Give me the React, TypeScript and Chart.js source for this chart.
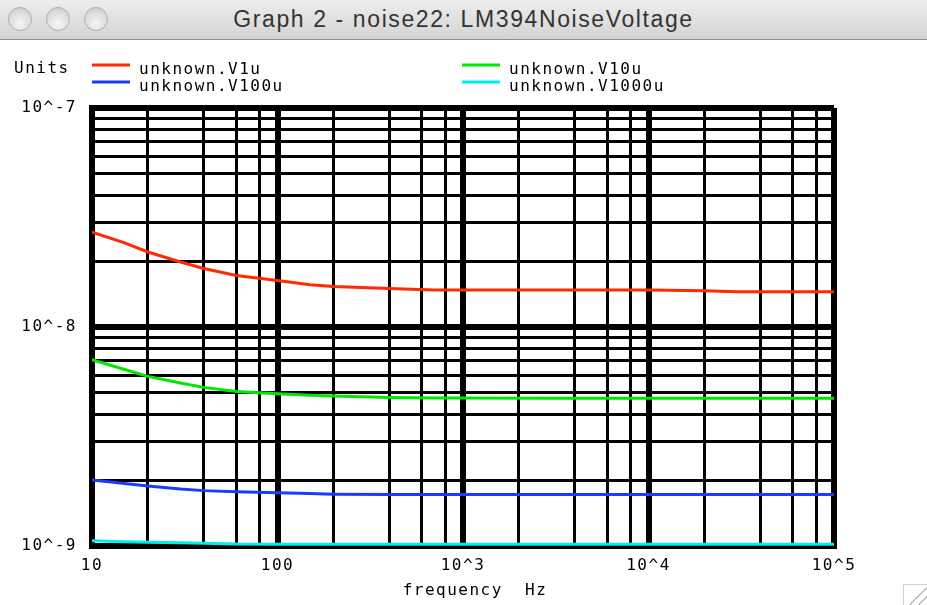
import React, { useEffect, useRef } from "react";
import { Chart, registerables } from "chart.js";

Chart.register(...registerables);

// ---- data ----
const frequencies = [10, 15, 20, 30, 40, 60, 100, 150, 200, 400, 700, 1000, 3000, 10000, 20000, 30000, 100000];
const v1u = [2.71e-8, 2.42e-8, 2.2e-8, 1.98e-8, 1.85e-8, 1.72e-8, 1.63e-8, 1.56e-8, 1.53e-8, 1.5e-8, 1.475e-8, 1.475e-8, 1.475e-8, 1.475e-8, 1.465e-8, 1.45e-8, 1.45e-8];
const v10u = [7.1e-9, 6.4e-9, 5.95e-9, 5.55e-9, 5.3e-9, 5.07e-9, 4.96e-9, 4.88e-9, 4.84e-9, 4.77e-9, 4.74e-9, 4.74e-9, 4.73e-9, 4.73e-9, 4.73e-9, 4.73e-9, 4.73e-9];
const v100u = [2.0e-9, 1.93e-9, 1.88e-9, 1.82e-9, 1.79e-9, 1.77e-9, 1.75e-9, 1.735e-9, 1.725e-9, 1.72e-9, 1.72e-9, 1.72e-9, 1.72e-9, 1.72e-9, 1.72e-9, 1.72e-9, 1.72e-9];
const v1000u = [1.057e-9, 1.045e-9, 1.039e-9, 1.035e-9, 1.03e-9, 1.02e-9, 1.018e-9, 1.018e-9, 1.018e-9, 1.018e-9, 1.018e-9, 1.018e-9, 1.018e-9, 1.018e-9, 1.018e-9, 1.018e-9, 1.018e-9];
const seriesValues = [v1u, v10u, v100u, v1000u];
const seriesLabels = ["unknown.V1u", "unknown.V10u", "unknown.V100u", "unknown.V1000u"];
const seriesColors = ["#ff2a00", "#00e800", "#1a3cff", "#00eeee"];

const xMajorTicks = [10, 100, 1000, 10000, 100000];
const xMajorLabels = ["10", "100", "10^3", "10^4", "10^5"];
const xMinorMultipliers = [2, 4, 6, 8];
const yMajorTicks = [1e-9, 1e-8, 1e-7];
const yMajorLabels = ["10^-9", "10^-8", "10^-7"];
const yMinorMultipliers = [2, 3, 4, 5, 6, 7, 8, 9];

const windowTitle = "Graph 2 - noise22: LM394NoiseVoltage";
const unitsLabel = "Units";
const xAxisTitle = "frequency  Hz";

// ---- helpers ----
function buildTicks(majors: number[], mults: number[]) {
  const out: number[] = [];
  majors.forEach((m, i) => {
    out.push(m);
    if (i < majors.length - 1) mults.forEach((k) => out.push(m * k));
  });
  return out;
}
const xTicks = buildTicks(xMajorTicks, xMinorMultipliers);
const yTicks = buildTicks(yMajorTicks, yMinorMultipliers);

function majorIndex(majors: number[], v: number) {
  return majors.findIndex((m) => Math.abs(v / m - 1) < 1e-6);
}

const MONO = '"DejaVu Sans Mono", monospace';
const LETTER = "1.5px";

const spacingPlugin = {
  id: "spacing",
  beforeLayout(chart: any) {
    chart.ctx.letterSpacing = LETTER;
  },
  beforeDraw(chart: any) {
    chart.ctx.letterSpacing = LETTER;
  },
  afterDraw(chart: any) {
    const ctx = chart.ctx as CanvasRenderingContext2D;
    ctx.save();
    (ctx as any).letterSpacing = LETTER;
    ctx.font = `16px ${MONO}`;
    ctx.fillStyle = "#000";
    ctx.textBaseline = "middle";
    ctx.textAlign = "left";
    ctx.fillText(unitsLabel, 14, 29);
    const colX = [92, 462];
    const rowY = [25, 42];
    chart.data.datasets.forEach((ds: any, i: number) => {
      const cx = colX[i % 2];
      const cy = rowY[Math.floor(i / 2)];
      ctx.strokeStyle = ds.borderColor;
      ctx.lineWidth = 3;
      ctx.beginPath();
      ctx.moveTo(cx, cy);
      ctx.lineTo(cx + 38, cy);
      ctx.stroke();
      ctx.fillStyle = "#000";
      ctx.fillText(ds.label, cx + 47, cy + 5);
    });
    ctx.textAlign = "center";
    ctx.fillText(xAxisTitle, 475, 551);
    ctx.restore();
  },
};

export default function App() {
  const ref = useRef<HTMLCanvasElement | null>(null);
  useEffect(() => {
    document.body.style.margin = "0";
    if (!ref.current) return;
    const chart = new Chart(ref.current, {
      type: "line",
      data: {
        datasets: seriesValues.map((vals, i) => ({
          label: seriesLabels[i],
          data: frequencies.map((f, j) => ({ x: f, y: vals[j] })),
          borderColor: seriesColors[i],
          backgroundColor: seriesColors[i],
          borderWidth: 3,
          pointRadius: 0,
          tension: 0,
          fill: false,
        })),
      },
      options: {
        responsive: false,
        animation: false,
        layout: { padding: { left: 0, right: 93, top: 68, bottom: 0 } },
        plugins: { legend: { display: false }, tooltip: { enabled: false } },
        scales: {
          x: {
            type: "logarithmic",
            min: 10,
            max: 100000,
            afterBuildTicks: (s: any) => {
              s.ticks = xTicks.map((v) => ({ value: v }));
            },
            afterFit: (s: any) => {
              s.height = 59;
            },
            grid: {
              color: "#000",
              lineWidth: (c: any) => (c.tick && majorIndex(xMajorTicks, c.tick.value) >= 0 ? 6 : 3),
              drawTicks: false,
            },
            border: { display: true, color: "#000", width: 6 },
            ticks: {
              autoSkip: false,
              maxRotation: 0,
              padding: 10,
              color: "#000",
              font: { family: MONO, size: 16 },
              callback: (v: any) => {
                const k = majorIndex(xMajorTicks, Number(v));
                return k >= 0 ? xMajorLabels[k] : "";
              },
            },
          },
          y: {
            type: "logarithmic",
            min: 1e-9,
            max: 1e-7,
            afterBuildTicks: (s: any) => {
              s.ticks = yTicks.map((v) => ({ value: v }));
            },
            afterFit: (s: any) => {
              s.width = 92;
            },
            grid: {
              color: "#000",
              lineWidth: (c: any) => (c.tick && majorIndex(yMajorTicks, c.tick.value) >= 0 ? 6 : 3),
              drawTicks: false,
            },
            border: { display: true, color: "#000", width: 6 },
            ticks: {
              autoSkip: false,
              padding: 15,
              color: "#000",
              font: { family: MONO, size: 16 },
              callback: (v: any) => {
                const k = majorIndex(yMajorTicks, Number(v));
                return k >= 0 ? yMajorLabels[k] : "";
              },
            },
          },
        },
      },
      plugins: [spacingPlugin],
    } as any);
    return () => chart.destroy();
  }, []);

  const circle = (left: number) => (
    <div
      style={{
        position: "absolute",
        left,
        top: 7,
        width: 24,
        height: 24,
        borderRadius: "50%",
        border: "1px solid #b0b0b0",
        background: "radial-gradient(circle at 50% 70%, #f6f6f6 0%, #dcdcdc 60%, #c4c4c4 100%)",
        boxSizing: "border-box",
      }}
    />
  );

  return (
    <div style={{ position: "relative", width: 927, height: 605, background: "#fff", overflow: "hidden" }}>
      <div
        style={{
          position: "absolute",
          left: 0,
          top: 0,
          width: 927,
          height: 39,
          background: "linear-gradient(#ededed, #d4d4d4)",
          borderBottom: "1px solid #8f8f8f",
        }}
      >
        {circle(8)}
        {circle(46)}
        {circle(84)}
        <div
          style={{
            position: "absolute",
            left: 0,
            width: 927,
            top: 6,
            textAlign: "center",
            fontFamily: '"Liberation Sans", Arial, sans-serif',
            fontSize: 23,
            letterSpacing: "1.6px",
            color: "#333",
            lineHeight: "26px",
          }}
        >
          {windowTitle}
        </div>
      </div>
      <div style={{ position: "absolute", left: 0, top: 40, width: 927, height: 565 }}>
        <canvas ref={ref} width={927} height={565} style={{ width: 927, height: 565, display: "block" }} />
      </div>
      <div
        style={{
          position: "absolute",
          left: 903,
          top: 584,
          width: 24,
          height: 21,
          borderLeft: "1px solid #d0d0d0",
          borderTop: "1px solid #d0d0d0",
          background:
            "linear-gradient(135deg, transparent 55%, #bbb 55%, #bbb 60%, transparent 60%, transparent 75%, #bbb 75%, #bbb 80%, transparent 80%)",
        }}
      />
    </div>
  );
}
